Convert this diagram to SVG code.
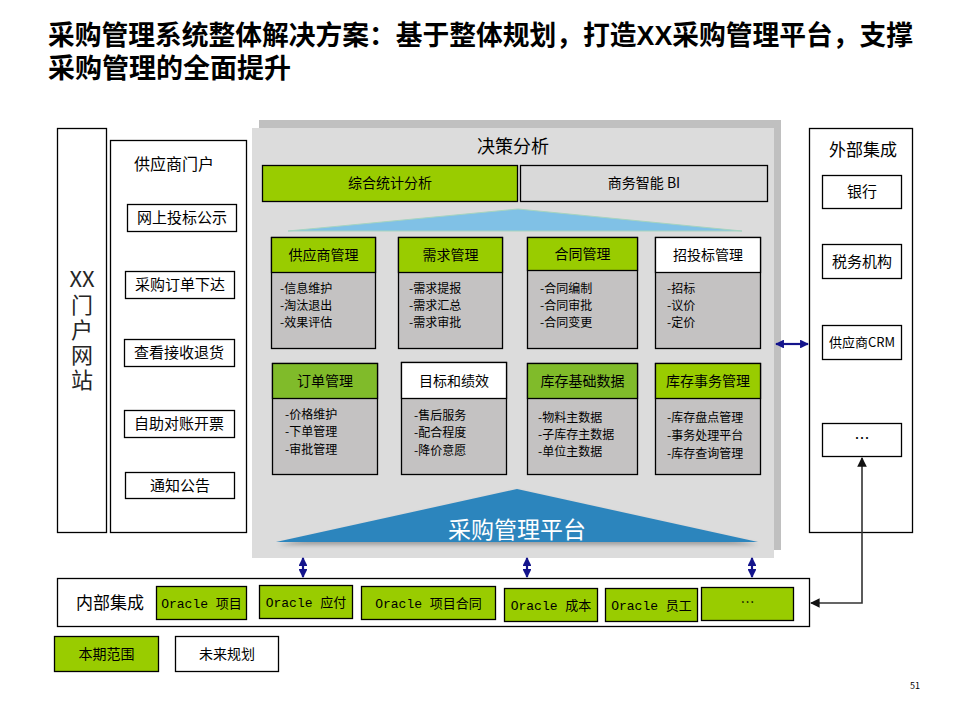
<svg xmlns="http://www.w3.org/2000/svg" width="960" height="720" viewBox="0 0 960 720">
<style>
text{font-family:"Noto Sans CJK SC","Liberation Sans",sans-serif;fill:#000}
.title{font-family:"Liberation Sans","Noto Sans CJK SC",sans-serif;font-size:27px;font-weight:700}
.bx{stroke:#000;stroke-width:1.3}
.g{fill:#99cc00}
.g2{fill:#80bb2a}
.w{fill:#fff}
.body{fill:#c4c2c2}
.hd{font-size:14px;text-anchor:middle}
.it{font-size:12px}
.lb{font-size:15px;text-anchor:middle}
.orc{font-family:"Liberation Mono","Noto Sans CJK SC",monospace;font-size:13px;text-anchor:middle}
.nv{stroke:#14148c;stroke-width:2.2;fill:none}
.dk{stroke:#333;stroke-width:1.6;fill:none}
.vt{font-size:22px;fill:#262626}
</style>
<defs>
<marker id="an" viewBox="0 0 10 10" refX="9" refY="5" markerWidth="4" markerHeight="4" orient="auto-start-reverse"><path d="M0,0L10,5L0,10z" fill="#14148c"/></marker>
<marker id="ak" viewBox="0 0 10 10" refX="9" refY="5" markerWidth="6" markerHeight="6" orient="auto-start-reverse"><path d="M0,0L10,5L0,10z" fill="#111"/></marker>
<filter id="sh" x="-5%" y="-20%" width="110%" height="150%"><feGaussianBlur stdDeviation="2"/></filter>
</defs>
<rect width="960" height="720" fill="#fff"/>
<text class="title" x="48" y="45" textLength="865" lengthAdjust="spacingAndGlyphs">采购管理系统整体解决方案：基于整体规划，打造XX采购管理平台，支撑</text>
<text class="title" x="48" y="78">采购管理的全面提升</text>

<g id="portal">
<rect x="57.5" y="128.5" width="49" height="404" fill="#fff" class="bx"/>
<text class="vt" x="82" y="287" text-anchor="middle">XX</text>
<text class="vt" x="82" y="294" style="writing-mode:vertical-rl;letter-spacing:3px">门户网站</text>
</g>

<g id="supplier-portal">
<rect x="110.5" y="140.5" width="136" height="392" fill="#fff" class="bx"/>
<text x="134" y="170" font-size="16">供应商门户</text>
<rect x="127.5" y="204.5" width="109" height="27" fill="#fff" class="bx"/>
<text class="lb" x="182" y="223">网上投标公示</text>
<rect x="125.5" y="271.5" width="109" height="27" fill="#fff" class="bx"/>
<text class="lb" x="180" y="290">采购订单下达</text>
<rect x="124.5" y="339.5" width="110" height="27" fill="#fff" class="bx"/>
<text class="lb" x="179" y="358">查看接收退货</text>
<rect x="124.5" y="410.5" width="110" height="27" fill="#fff" class="bx"/>
<text class="lb" x="179" y="429">自助对账开票</text>
<rect x="125.5" y="472.5" width="109" height="26" fill="#fff" class="bx"/>
<text class="lb" x="180" y="491">通知公告</text>
</g>

<g id="platform">
<rect x="259" y="120" width="522" height="430" fill="#c0c0c0"/>
<rect x="252" y="128" width="522" height="430" fill="#dcdcdc"/>
<text x="513" y="153" font-size="18" text-anchor="middle">决策分析</text>
</g>

<g id="stat">
<rect x="262.5" y="165.5" width="255" height="36" class="bx g"/>
<text x="390" y="188" font-size="14" text-anchor="middle">综合统计分析</text>
</g>
<g id="bi">
<rect x="520.5" y="165.5" width="247" height="36" fill="#d9d9d9" class="bx"/>
<text x="644" y="188" font-size="14" text-anchor="middle">商务智能 BI</text>
</g>
<polygon points="288,231 518,209 742,231" fill="#80c1e6" stroke="#a6d4c0" stroke-width="1"/>

<g id="gys">
<rect x="271.5" y="237.5" width="104" height="111" class="bx body"/>
<rect x="271.5" y="237.5" width="104" height="35" class="bx g"/>
<text class="hd" x="323.5" y="260">供应商管理</text>
<text class="it" x="280" y="293">-信息维护</text>
<text class="it" x="280" y="310">-淘汰退出</text>
<text class="it" x="280" y="327">-效果评估</text>
</g>
<g id="xq">
<rect x="398.5" y="237.5" width="104" height="111" class="bx body"/>
<rect x="398.5" y="237.5" width="104" height="35" class="bx g"/>
<text class="hd" x="450.5" y="260">需求管理</text>
<text class="it" x="409" y="293">-需求提报</text>
<text class="it" x="409" y="310">-需求汇总</text>
<text class="it" x="409" y="327">-需求审批</text>
</g>
<g id="ht">
<rect x="527.5" y="237.5" width="110" height="111" class="bx body"/>
<rect x="527.5" y="237.5" width="110" height="33" class="bx g"/>
<text class="hd" x="582.5" y="259">合同管理</text>
<text class="it" x="540" y="293">-合同编制</text>
<text class="it" x="540" y="310">-合同审批</text>
<text class="it" x="540" y="327">-合同变更</text>
</g>
<g id="ztb">
<rect x="655.5" y="237.5" width="105" height="111" class="bx body"/>
<rect x="655.5" y="237.5" width="105" height="35" class="bx w"/>
<text class="hd" x="708" y="260">招投标管理</text>
<text class="it" x="667" y="293">-招标</text>
<text class="it" x="667" y="310">-议价</text>
<text class="it" x="667" y="327">-定价</text>
</g>

<g id="dd">
<rect x="272.5" y="363.5" width="105" height="111" class="bx body"/>
<rect x="272.5" y="363.5" width="105" height="35" class="bx g2"/>
<text class="hd" x="325" y="386">订单管理</text>
<text class="it" x="285" y="419">-价格维护</text>
<text class="it" x="285" y="436">-下单管理</text>
<text class="it" x="285" y="454">-审批管理</text>
</g>
<g id="mb">
<rect x="401.5" y="362.5" width="105" height="112" class="bx body"/>
<rect x="401.5" y="362.5" width="105" height="36" class="bx w"/>
<text class="hd" x="454" y="386">目标和绩效</text>
<text class="it" x="414" y="420">-售后服务</text>
<text class="it" x="414" y="437">-配合程度</text>
<text class="it" x="414" y="455">-降价意愿</text>
</g>
<g id="kcjc">
<rect x="527.5" y="363.5" width="110" height="111" class="bx body"/>
<rect x="527.5" y="363.5" width="110" height="35" class="bx g2"/>
<text class="hd" x="582.5" y="386">库存基础数据</text>
<text class="it" x="538" y="422">-物料主数据</text>
<text class="it" x="538" y="439">-子库存主数据</text>
<text class="it" x="538" y="456">-单位主数据</text>
</g>
<g id="kcsw">
<rect x="655.5" y="363.5" width="105" height="111" class="bx body"/>
<rect x="655.5" y="363.5" width="105" height="35" class="bx g"/>
<text class="hd" x="708" y="386">库存事务管理</text>
<text class="it" x="667" y="422">-库存盘点管理</text>
<text class="it" x="667" y="440">-事务处理平台</text>
<text class="it" x="667" y="458">-库存查询管理</text>
</g>

<g id="base">
<polygon points="278,545 517,492 758,545" fill="#555" opacity="0.45" filter="url(#sh)"/>
<polygon points="276,542 517,489 758,542" fill="#2c85bd"/>
<text x="517" y="538" font-size="23" text-anchor="middle" style="fill:#fff">采购管理平台</text>
</g>

<g id="external">
<rect x="809.5" y="128.5" width="103" height="404" fill="#fff" class="bx"/>
<text x="863" y="156" font-size="17" text-anchor="middle">外部集成</text>
<rect x="822.5" y="175.5" width="79" height="33" fill="#fff" class="bx"/>
<text class="lb" x="862" y="197">银行</text>
<rect x="822.5" y="244.5" width="79" height="34" fill="#fff" class="bx"/>
<text class="lb" x="862" y="267">税务机构</text>
<rect x="822.5" y="325.5" width="79" height="34" fill="#fff" class="bx"/>
<text x="862" y="347" font-size="13" text-anchor="middle">供应商CRM</text>
<rect x="822.5" y="423.5" width="79" height="33" fill="#fff" class="bx"/>
<text class="lb" x="862" y="444">…</text>
</g>

<g id="internal">
<rect x="57.5" y="578.5" width="752" height="48" fill="#fff" class="bx"/>
<text x="110" y="609" font-size="17" text-anchor="middle">内部集成</text>
<rect x="156.5" y="586.5" width="90" height="33" class="bx g"/>
<text class="orc" x="201.5" y="608">Oracle 项目</text>
<rect x="259.5" y="585.5" width="93" height="33" class="bx g"/>
<text class="orc" x="306" y="607">Oracle 应付</text>
<rect x="361.5" y="586.5" width="134" height="33" class="bx g"/>
<text class="orc" x="428.5" y="608">Oracle 项目合同</text>
<rect x="504.5" y="588.5" width="93" height="33" class="bx g"/>
<text class="orc" x="551" y="610">Oracle 成本</text>
<rect x="605.5" y="588.5" width="92" height="33" class="bx g"/>
<text class="orc" x="651.5" y="610">Oracle 员工</text>
<rect x="701.5" y="587.5" width="92" height="33" class="bx g"/>
<text x="747.5" y="607" font-size="14" text-anchor="middle">…</text>
</g>

<g id="legend">
<rect x="54.5" y="636.5" width="104" height="35" class="bx g"/>
<text x="106.5" y="659" font-size="14" text-anchor="middle">本期范围</text>
<rect x="175.5" y="636.5" width="103" height="35" fill="#fff" class="bx"/>
<text x="227" y="659" font-size="14" text-anchor="middle">未来规划</text>
</g>

<g id="connectors">
<line x1="303" y1="558" x2="303" y2="577" class="nv" marker-start="url(#an)" marker-end="url(#an)"/>
<line x1="527" y1="558" x2="527" y2="577" class="nv" marker-start="url(#an)" marker-end="url(#an)"/>
<line x1="752" y1="558" x2="752" y2="577" class="nv" marker-start="url(#an)" marker-end="url(#an)"/>
<line x1="776" y1="344" x2="808" y2="344" class="nv" marker-start="url(#an)" marker-end="url(#an)"/>
<polyline points="862,458 862,603 811,603" class="dk" marker-start="url(#ak)" marker-end="url(#ak)"/>
</g>

<text x="915" y="689" font-size="9" text-anchor="middle" font-family="Liberation Sans,sans-serif">51</text>
</svg>
